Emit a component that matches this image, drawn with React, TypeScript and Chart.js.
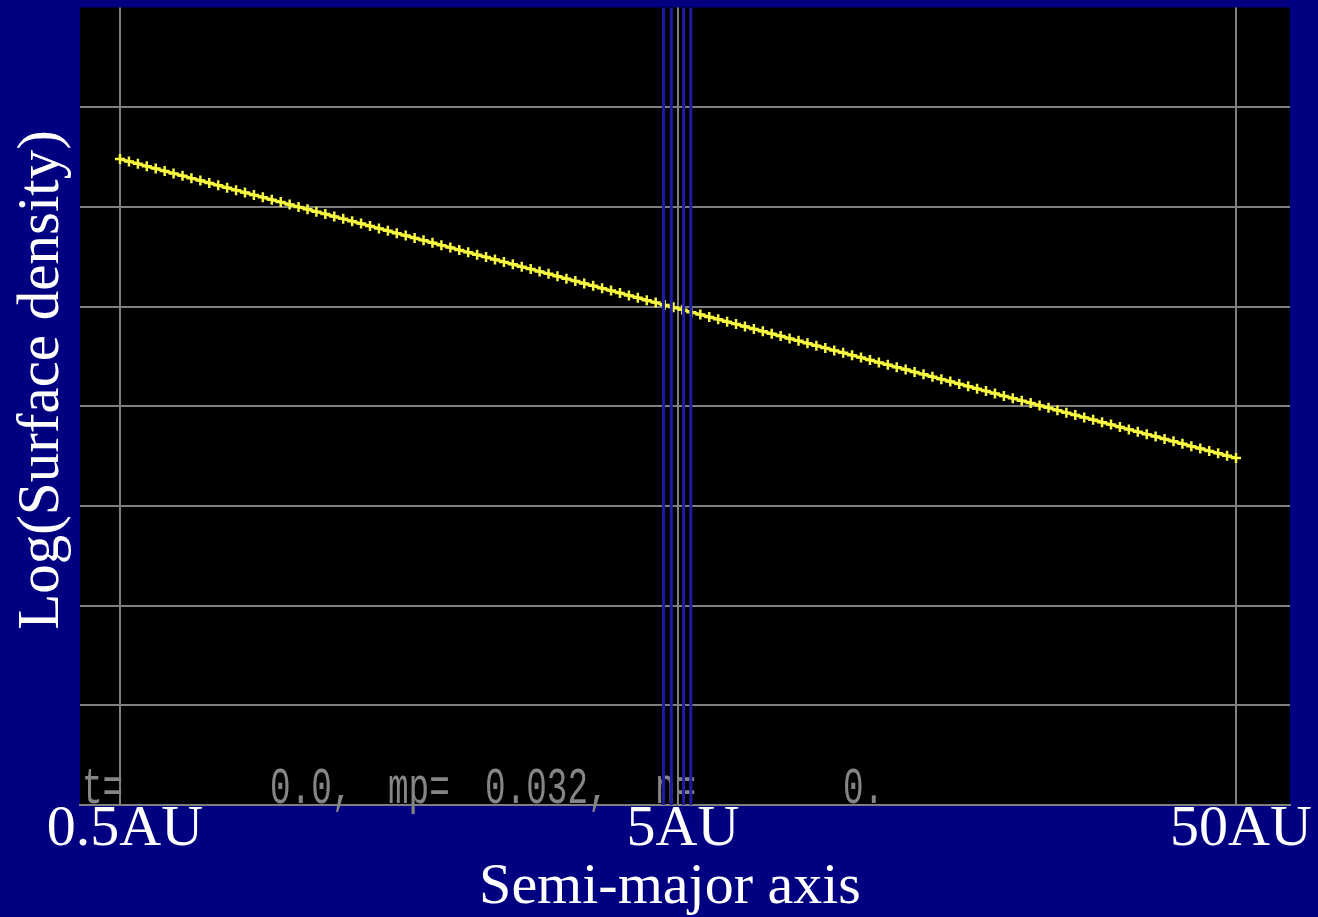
import React, { useEffect, useRef } from "react";
import { Chart, registerables } from "chart.js";

Chart.register(...registerables);

// log10(a / AU) of each plotted point
const logA = [
  -0.301, -0.285, -0.269, -0.253, -0.237, -0.221, -0.205, -0.189, -0.173, -0.157,
  -0.141, -0.125, -0.109, -0.093, -0.077, -0.061, -0.045, -0.029, -0.013, 0.003,
  0.019, 0.035, 0.051, 0.067, 0.083, 0.099, 0.115, 0.131, 0.147, 0.163,
  0.179, 0.195, 0.211, 0.227, 0.243, 0.259, 0.275, 0.291, 0.307, 0.323,
  0.339, 0.355, 0.371, 0.387, 0.403, 0.419, 0.435, 0.451, 0.467, 0.483,
  0.499, 0.515, 0.531, 0.547, 0.563, 0.579, 0.595, 0.611, 0.627, 0.643,
  0.659, 0.675, 0.691, 0.707, 0.723, 0.739, 0.755, 0.771, 0.787, 0.803,
  0.819, 0.835, 0.851, 0.867, 0.883, 0.899, 0.915, 0.931, 0.947, 0.963,
  0.979, 0.995, 1.011, 1.027, 1.043, 1.059, 1.075, 1.091, 1.107, 1.123,
  1.139, 1.155, 1.171, 1.187, 1.203, 1.219, 1.235, 1.251, 1.267, 1.283,
  1.299, 1.315, 1.331, 1.347, 1.363, 1.379, 1.395, 1.411, 1.427, 1.443,
  1.459, 1.475, 1.491, 1.507, 1.523, 1.539, 1.555, 1.571, 1.587, 1.603,
  1.619, 1.635, 1.651, 1.667, 1.683, 1.699,
];

// log surface density of each point
const logSigma = [
  6.48, 6.456, 6.432, 6.408, 6.384, 6.36, 6.336, 6.312, 6.288, 6.264,
  6.24, 6.216, 6.192, 6.168, 6.144, 6.12, 6.096, 6.072, 6.048, 6.024,
  6.0, 5.976, 5.952, 5.928, 5.904, 5.88, 5.856, 5.832, 5.808, 5.784,
  5.76, 5.736, 5.712, 5.688, 5.664, 5.64, 5.616, 5.592, 5.568, 5.544,
  5.52, 5.496, 5.472, 5.448, 5.424, 5.4, 5.376, 5.352, 5.328, 5.304,
  5.28, 5.256, 5.232, 5.208, 5.184, 5.16, 5.136, 5.112, 5.088, 5.064,
  5.04, 5.016, 4.992, 4.968, 4.944, 4.92, 4.896, 4.872, 4.848, 4.824,
  4.8, 4.776, 4.752, 4.728, 4.704, 4.68, 4.656, 4.632, 4.608, 4.584,
  4.56, 4.536, 4.512, 4.488, 4.464, 4.44, 4.416, 4.392, 4.368, 4.344,
  4.32, 4.296, 4.272, 4.248, 4.224, 4.2, 4.176, 4.152, 4.128, 4.104,
  4.08, 4.056, 4.032, 4.008, 3.984, 3.96, 3.936, 3.912, 3.888, 3.864,
  3.84, 3.816, 3.792, 3.768, 3.744, 3.72, 3.696, 3.672, 3.648, 3.624,
  3.6, 3.576, 3.552, 3.528, 3.504, 3.48,
];

// planet region markers (log10 a)
const planetLines = [0.673, 0.687, 0.709, 0.722];

const xTickValues = [-0.301, 0.699, 1.699];
const xTickLabels = ["0.5AU", "5AU", "50AU"];
const yGridValues = [0, 1, 2, 3, 4, 5, 6, 7, 8];
const statusPieces = ["t=", "0.0,", "mp=", "0.032,", "n=", "0."];

const xTitle = "Semi-major axis";
const yTitle = "Log(Surface density)";

// ---- styles ----
const X_MIN = -0.3727;
const X_MAX = 1.7958;
const Y_MIN = 0;
const Y_MAX = 8;
const NAVY = "#000080";
const GRID = "#7f7f7f";
const SERIF = "'Liberation Serif', 'Times New Roman', serif";
const statusOffsets = [2, 190, 308, 405, 575, 763];

export default function App() {
  const canvasRef = useRef<HTMLCanvasElement | null>(null);

  useEffect(() => {
    const canvas = canvasRef.current;
    if (!canvas) return;

    const decorPlugin = {
      id: "decor",
      beforeDraw(chart: any) {
        const { ctx, chartArea } = chart;
        ctx.save();
        ctx.fillStyle = NAVY;
        ctx.fillRect(0, 0, chart.width, chart.height);
        ctx.fillStyle = "#000000";
        ctx.fillRect(
          chartArea.left,
          chartArea.top,
          chartArea.right - chartArea.left,
          chartArea.bottom - chartArea.top
        );
        ctx.restore();
      },
      beforeDatasetsDraw(chart: any) {
        const { ctx, chartArea } = chart;
        ctx.save();
        ctx.fillStyle = "#858585";
        ctx.font = "52px 'Liberation Mono', 'DejaVu Sans Mono', monospace";
        ctx.textBaseline = "alphabetic";
        statusPieces.forEach((s, i) => {
          ctx.save();
          ctx.translate(chartArea.left + statusOffsets[i], chartArea.bottom - 2);
          ctx.scale(0.66, 1);
          ctx.fillText(s, 0, 0);
          ctx.restore();
        });
        ctx.restore();
      },
      afterDraw(chart: any) {
        const { ctx } = chart;
        ctx.save();
        ctx.fillStyle = "#ffffff";
        ctx.font = `58px ${SERIF}`;
        ctx.textAlign = "center";
        ctx.textBaseline = "alphabetic";
        ctx.fillText(xTitle, 670, 903);
        ctx.font = `59px ${SERIF}`;
        ctx.translate(42, 380);
        ctx.rotate(-Math.PI / 2);
        ctx.textBaseline = "middle";
        ctx.fillText(yTitle, 0, 0);
        ctx.restore();
      },
    };

    const datasets: any[] = planetLines.map((v) => ({
      data: [
        { x: v, y: Y_MIN },
        { x: v, y: Y_MAX },
      ],
      borderColor: "rgba(28,28,165,1)",
      borderWidth: 3,
      pointRadius: 0,
      fill: false,
    }));
    datasets.push({
      data: logA.map((x, i) => ({ x, y: logSigma[i] })),
      borderColor: "#f4f43a",
      backgroundColor: "#f4f43a",
      borderWidth: 3,
      pointStyle: "cross",
      pointRadius: 5,
      pointBorderWidth: 2.5,
      pointBorderColor: "#f8f840",
      fill: false,
    });

    const chart = new Chart(canvas, {
      type: "line",
      data: { datasets },
      plugins: [decorPlugin],
      options: {
        animation: false,
        responsive: false,
        maintainAspectRatio: false,
        layout: { padding: { left: 80, right: 28, top: 6, bottom: 0 } },
        plugins: {
          legend: { display: false },
          tooltip: { enabled: false },
          title: { display: false },
        },
        scales: {
          x: {
            type: "linear",
            min: X_MIN,
            max: X_MAX,
            afterBuildTicks: (s: any) => {
              s.ticks = xTickValues.map((v) => ({ value: v }));
            },
            afterFit: (s: any) => {
              s.height = 112;
            },
            ticks: {
              autoSkip: false,
              maxRotation: 0,
              minRotation: 0,
              color: "#ffffff",
              padding: -4,
              labelOffset: 5,
              font: { family: SERIF, size: 58, lineHeight: 1 },
              callback: (_v: any, i: number) => xTickLabels[i],
            },
            grid: { color: GRID, lineWidth: 2, drawTicks: false },
            border: { display: true, color: GRID, width: 2 },
          },
          y: {
            type: "linear",
            min: Y_MIN,
            max: Y_MAX,
            afterBuildTicks: (s: any) => {
              s.ticks = yGridValues.map((v) => ({ value: v }));
            },
            afterFit: (s: any) => {
              s.width = 0;
            },
            ticks: { display: false },
            grid: {
              color: (c: any) =>
                c.tick && c.tick.value === Y_MAX ? "rgba(0,0,0,0)" : GRID,
              lineWidth: 2,
              drawTicks: false,
            },
            border: { display: false },
          },
        },
      } as any,
    });

    return () => chart.destroy();
  }, []);

  return (
    <div
      style={{
        position: "fixed",
        left: 0,
        top: 0,
        width: 1318,
        height: 917,
        background: NAVY,
      }}
    >
      <canvas ref={canvasRef} width={1318} height={917} style={{ display: "block" }} />
    </div>
  );
}
